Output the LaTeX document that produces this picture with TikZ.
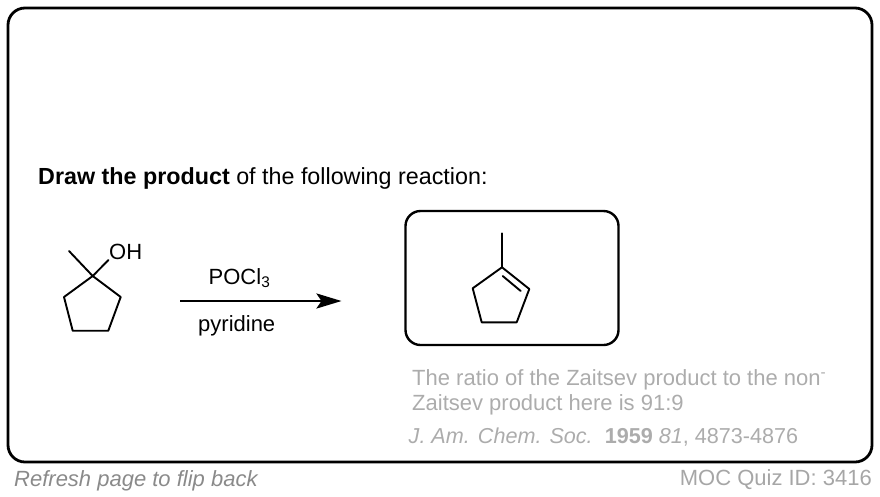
\documentclass[tikz,border=0pt]{standalone}
\usepackage{fontspec}
\usepackage{xcolor}
\setmainfont{Liberation Sans}
\usetikzlibrary{arrows.meta}
\definecolor{notegray}{HTML}{ACACAC}
\definecolor{flipgray}{HTML}{8A8A8A}
\definecolor{quizgray}{HTML}{A6A6A6}
\tikzset{
	label text/.style={anchor=base west, inner sep=0pt, font=\fontsize{22}{26}\selectfont},
	bond/.style={line width=1.9pt, line cap=round, line join=round},
	frame/.style={draw, line width=2.8pt, rounded corners=17pt},
}

\begin{document}
\begin{tikzpicture}[x=1pt, y=-1pt]
	\useasboundingbox (0, 0) rectangle (880, 496);
	\draw [frame] (8, 8) rectangle (872, 462);
	\draw [frame, line width=2.4pt, rounded corners=15pt] (405.5, 211) rectangle (618.5, 345);

	\node [label text, font=\fontsize{23.3}{28}\selectfont] (prompt) at (38, 184) {\textbf{Draw the product} of the following reaction:};

	\coordinate (c1) at (92.7, 276);
	\coordinate (c2) at (120.7, 297);
	\coordinate (c3) at (108.3, 330.7);
	\coordinate (c4) at (72.7, 330.7);
	\coordinate (c5) at (64, 297);
	\coordinate (methyl) at (69, 251);
	\coordinate (hydroxyl) at (108.5, 260);
	\draw [bond] (c1) -- (c2) -- (c3) -- (c4) -- (c5) -- cycle;
	\draw [bond] (c1) -- (methyl);
	\draw [bond] (c1) -- (hydroxyl);
	\node [label text] (oh) at (109, 259) {OH};

	\coordinate (arrowstart) at (180, 301);
	\coordinate (arrowend) at (341.5, 301);
	\draw [line width=2.6pt, -{Stealth[length=25pt, width=15pt, inset=5pt]}] (arrowstart) -- (arrowend);
	\node [label text] (reagent) at (208.5, 284) {POCl\textsubscript{3}};
	\node [label text] (solvent) at (198, 331) {pyridine};

	\coordinate (d1) at (502, 267.3);
	\coordinate (d2) at (529.3, 289);
	\coordinate (d3) at (516.7, 322.3);
	\coordinate (d4) at (481.7, 322.3);
	\coordinate (d5) at (472.7, 288.3);
	\coordinate (topmethyl) at (502, 233.3);
	\coordinate (inner1) at (502.7, 276);
	\coordinate (inner2) at (520.7, 291);
	\draw [bond] (d1) -- (d2) -- (d3) -- (d4) -- (d5) -- cycle;
	\draw [bond] (d1) -- (topmethyl);
	\draw [bond] (inner1) -- (inner2);

	\node [label text, text=notegray] (ratio1) at (412, 385) {The ratio of the Zaitsev product to the non\textsuperscript{-}};
	\node [label text, text=notegray] (ratio2) at (412, 410) {Zaitsev product here is 91:9};
	\node [label text, text=notegray, font=\fontsize{21.6}{26}\selectfont] (journal) at (408.5, 443) {\textit{J. Am. Chem. Soc.}\ \ \textbf{1959} \textit{81}, 4873-4876};
	\node [label text, text=flipgray] (flip) at (14, 486) {\textit{Refresh page to flip back}};
	\node [label text, text=quizgray, anchor=base east] (quiz) at (872, 485) {MOC Quiz ID: 3416};
\end{tikzpicture}
\end{document}
